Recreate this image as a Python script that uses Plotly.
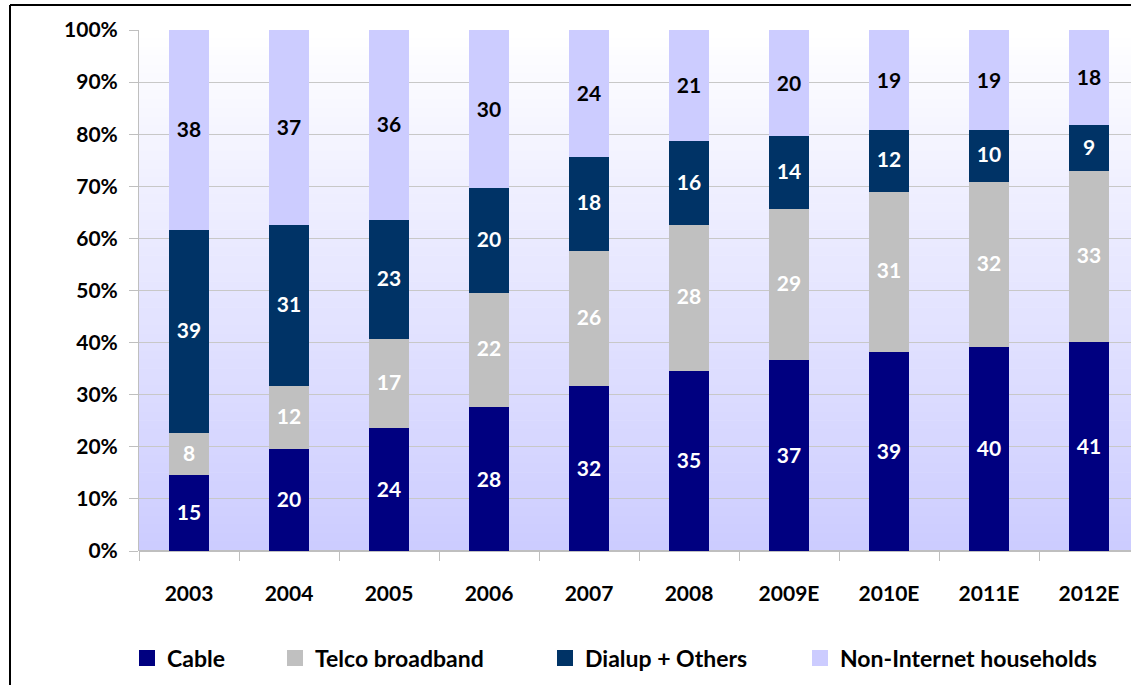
import plotly.graph_objects as go

years = ['2003', '2004', '2005', '2006', '2007', '2008', '2009E', '2010E', '2011E', '2012E']
cable = [15, 20, 24, 28, 32, 35, 37, 39, 40, 41]
telco = [8, 12, 17, 22, 26, 28, 29, 31, 32, 33]
dialup = [39, 31, 23, 20, 18, 16, 14, 12, 10, 9]
non_internet = [38, 37, 36, 30, 24, 21, 20, 19, 19, 18]

W, H = 1131, 685
L, T, B = 139, 30, 134
plot_w = W - L
plot_h = H - T - B

fig = go.Figure()

series = [
    ('Cable', cable, '#000080', 'white', 'legend'),
    ('Telco broadband', telco, '#C0C0C0', 'white', 'legend2'),
    ('Dialup + Others', dialup, '#003366', 'white', 'legend3'),
    ('Non-Internet households', non_internet, '#CCCCFF', 'black', 'legend4'),
]
for name, vals, col, tcol, leg in series:
    fig.add_trace(go.Bar(
        x=years, y=vals, name=name, legend=leg,
        # same-colour outline makes the legend swatch a bit bigger, like the original
        marker=dict(color=col, line=dict(width=4, color=col)),
        text=vals, texttemplate='%{text}',
        textposition='inside', insidetextanchor='middle',
        textfont=dict(family='Lato', size=21, color=tcol, weight='bold'),
        width=0.36,
    ))

# gradient background of plot area (white at top -> lavender at bottom)
shapes = []
n = 60
for i in range(n):
    f = (i + 0.5) / n
    r = int(round(255 - (255 - 204) * f))
    shapes.append(dict(type='rect', xref='paper', yref='paper',
                       x0=0, x1=1, y0=1 - (i + 1) / n, y1=1 - i / n + 0.001,
                       fillcolor='rgb(%d,%d,255)' % (r, r), line=dict(width=0),
                       layer='below'))

# outer chart border (top and left)
bx = (10 - L) / plot_w
by = 1 + (T - 5) / plot_h
ybot = -(H - T - plot_h + 5) / plot_h
shapes.append(dict(type='line', xref='paper', yref='paper', x0=bx, x1=1.01, y0=by, y1=by,
                   line=dict(color='black', width=2)))
shapes.append(dict(type='line', xref='paper', yref='paper', x0=bx, x1=bx, y0=by, y1=ybot,
                   line=dict(color='black', width=2)))

leg_font = dict(family='Lato', size=23, color='black', weight='bold')
leg_y = -(658 - (T + plot_h)) / plot_h


def leg(px):
    return dict(orientation='h', x=(px - L) / plot_w, xanchor='left', y=leg_y, yanchor='middle',
                font=leg_font, bgcolor='rgba(0,0,0,0)')


fig.update_layout(
    width=W, height=H,
    margin=dict(l=L, r=0, t=T, b=B),
    barmode='stack', barnorm='percent',
    paper_bgcolor='white', plot_bgcolor='rgba(0,0,0,0)',
    font=dict(family='Lato', color='black'),
    shapes=shapes,
    uniformtext=dict(minsize=19, mode='show'),
    showlegend=True,
    legend=leg(127), legend2=leg(275), legend3=leg(545), legend4=leg(800),
)

fig.update_xaxes(
    range=[-0.5, 9.42], showgrid=False, showline=False,
    ticks='outside', tickson='boundaries', ticklen=9, tickcolor='#BFBFBF',
    tickfont=dict(family='Lato', size=21, color='black', weight='bold'),
    ticklabelstandoff=28,
)
fig.update_yaxes(
    range=[0, 100], dtick=10, ticksuffix='%',
    showgrid=True, gridcolor='#C8C8C8', gridwidth=1,
    showline=True, linecolor='#BFBFBF', linewidth=1,
    zeroline=True, zerolinecolor='#BFBFBF',
    ticks='outside', ticklen=9, tickcolor='#BFBFBF',
    tickfont=dict(family='Lato', size=21, color='black', weight='bold'),
    ticklabelstandoff=7,
)

# page body has a default 8px margin; remove it so the chart sits at the window origin
fig.write_html('out.html', config={'displayModeBar': False},
               post_script="document.body.style.margin='0';")
